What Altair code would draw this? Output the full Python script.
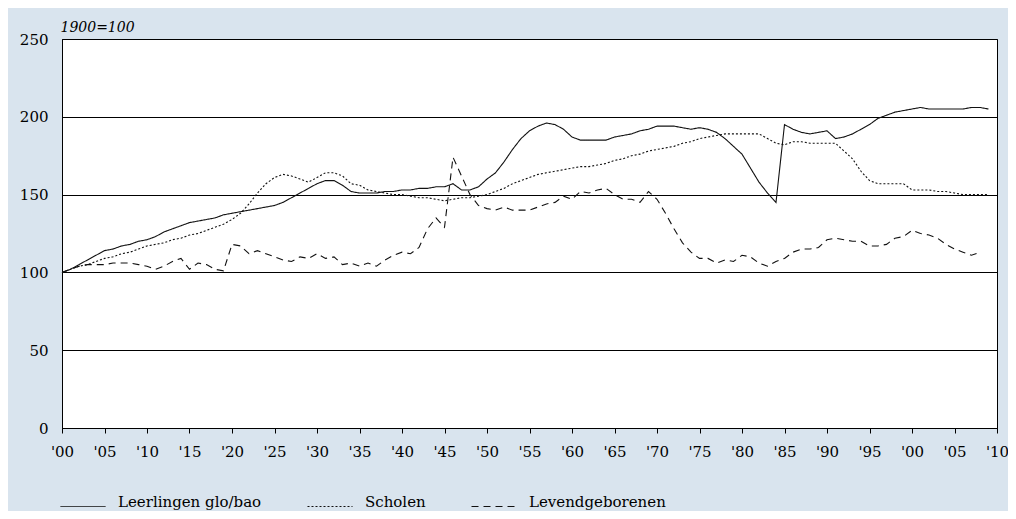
import altair as alt
import pandas as pd

years = list(range(1900, 2010))

leerlingen = [
    100, 102, 105, 108, 111, 114, 115, 117, 118, 120,
    121, 123, 126, 128, 130, 132, 133, 134, 135, 137,
    138, 139, 140, 141, 142, 143, 145, 148, 151, 154,
    157, 159, 159, 156, 152, 151, 151, 151, 152, 152,
    153, 153, 154, 154, 155, 155, 157, 153, 153, 155,
    160, 164, 171, 179, 186, 191, 194, 196, 195, 192,
    187, 185, 185, 185, 185, 187, 188, 189, 191, 192,
    194, 194, 194, 193, 192, 193, 192, 190, 186, 181,
    176, 167, 158, 151, 145, 195, 192, 190, 189, 190,
    191, 186, 187, 189, 192, 195, 199, 201, 203, 204,
    205, 206, 205, 205, 205, 205, 205, 206, 206, 205,
]

scholen = [
    100, 102, 104, 105, 107, 109, 110, 112, 113, 115,
    117, 118, 119, 121, 122, 124, 125, 127, 129, 131,
    134, 138, 144, 151, 157, 161, 163, 162, 160, 158,
    161, 164, 164, 162, 157, 156, 153, 152, 151, 150,
    150, 149, 148, 148, 147, 146, 147, 148, 148, 149,
    150, 152, 154, 157, 159, 161, 163, 164, 165, 166,
    167, 168, 168, 169, 170, 172, 173, 175, 176, 178,
    179, 180, 181, 183, 184, 186, 187, 188, 189, 189,
    189, 189, 189, 186, 183, 182, 184, 184, 183, 183,
    183, 183, 178, 173, 165, 159, 157, 157, 157, 157,
    153, 153, 153, 152, 152, 151, 150, 150, 150, 150,
]

levendgeborenen = [
    100, 102, 104, 105, 105, 105, 106, 106, 106, 105,
    104, 102, 104, 107, 109, 102, 106, 105, 102, 101,
    118, 117, 112, 114, 112, 110, 108, 107, 110, 109,
    112, 109, 110, 105, 106, 104, 106, 104, 108, 111,
    113, 112, 116, 128, 135, 129, 174, 162, 150, 143,
    141, 140, 142, 140, 140, 140, 142, 144, 145, 149,
    147, 152, 151, 153, 154, 150, 147, 147, 145, 152,
    147, 138, 128, 119, 113, 109, 109, 106, 108, 107,
    111, 110, 106, 104, 107, 109, 113, 115, 115, 116,
    121, 122, 121, 120, 120, 117, 117, 118, 122, 123,
    127, 125, 124, 122, 118, 115, 113, 111, 113,
]

series_names = ["Leerlingen glo/bao", "Scholen", "Levendgeborenen"]
dash_patterns = [[1, 0], [2, 2], [7, 5]]
x_ticks = list(range(1900, 2011, 5))
y_ticks = [0, 50, 100, 150, 200, 250]

rows = []
for name, vals in zip(series_names, [leerlingen, scholen, levendgeborenen]):
    for yr, v in zip(years, vals):
        rows.append({"jaar": yr, "index": v, "reeks": name})
df = pd.DataFrame(rows)

FONT = "DejaVu Serif"

chart = alt.Chart(df).mark_line(color="#111111", strokeWidth=1.1).encode(
    x=alt.X(
        "jaar:Q",
        scale=alt.Scale(domain=[1900, 2010], nice=False, zero=False),
        axis=alt.Axis(
            values=x_ticks,
            labelExpr="\"'\" + (datum.value % 100 < 10 ? '0' : '') + (datum.value % 100)",
            title=None,
            grid=False,
            ticks=True,
            tickSize=5,
            tickColor="black",
            domainColor="black",
            labelPadding=11,
            labelFont=FONT,
            labelFontSize=15,
            labelColor="black",
            labelFlush=False,
        ),
    ),
    y=alt.Y(
        "index:Q",
        scale=alt.Scale(domain=[0, 250], nice=False),
        axis=alt.Axis(
            values=y_ticks,
            grid=True,
            gridColor="black",
            gridWidth=1,
            gridOpacity=1,
            ticks=False,
            domainColor="black",
            labelPadding=14,
            labelFont=FONT,
            labelFontSize=15,
            labelColor="black",
            title="1900=100",
            titleAngle=0,
            titleX=-2,
            titleY=-12,
            titleAlign="left",
            titleBaseline="middle",
            titleFont=FONT,
            titleFontSize=14,
            titleFontStyle="italic",
            titleFontWeight="normal",
            titleColor="black",
        ),
    ),
    strokeDash=alt.StrokeDash(
        "reeks:N",
        scale=alt.Scale(domain=series_names, range=dash_patterns),
        sort=series_names,
        legend=alt.Legend(
            title=None,
            orient="none",
            legendX=-2,
            legendY=440,
            direction="horizontal",
            symbolType="M-1,0.2L1,0.2",
            symbolSize=2025,
            symbolStrokeWidth=1,
            symbolStrokeColor="#111111",
            labelFont=FONT,
            labelFontSize=15,
            labelColor="black",
            labelOffset=12,
            columnPadding=43,
        ),
    ),
).properties(
    width=935,
    height=389,
    background="#d9e4ee",
    padding={"left": 54, "top": 31, "right": 11, "bottom": 83},
    autosize=alt.AutoSizeParams(type="none"),
).configure_view(
    fill="white",
    stroke="black",
    strokeWidth=1,
)

chart.save("out.html", embed_options={"renderer": "svg", "actions": False})
